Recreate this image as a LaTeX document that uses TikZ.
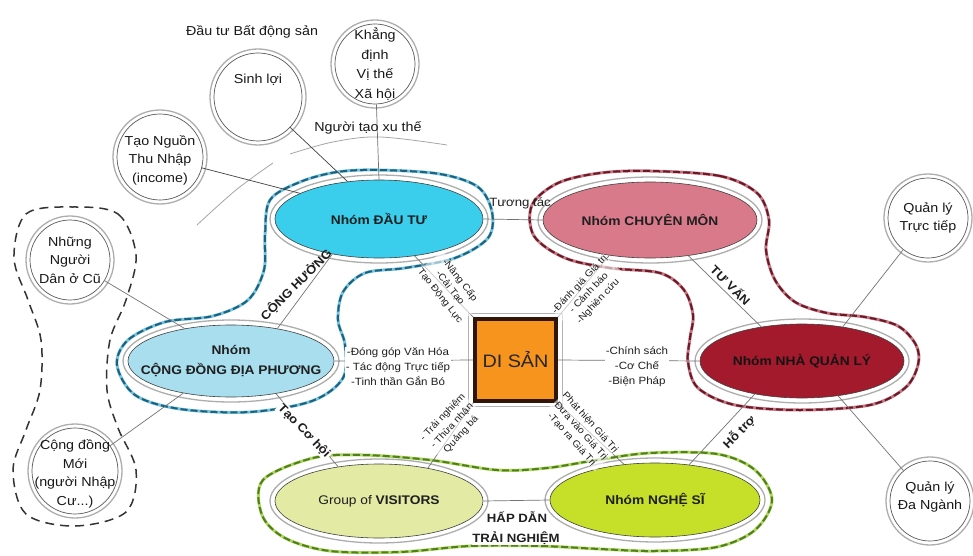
\documentclass[tikz,border=0pt]{standalone}
\usepackage{fontspec}
\setmainfont{Liberation Sans}[FakeStretch=1.1]
\usetikzlibrary{shapes.geometric}
\definecolor{cyanF}{RGB}{58,206,236}
\definecolor{cyanL}{RGB}{168,222,238}
\definecolor{pinkF}{RGB}{216,122,138}
\definecolor{redF}{RGB}{162,26,44}
\definecolor{visF}{RGB}{226,234,164}
\definecolor{artF}{RGB}{198,224,42}
\definecolor{orangeF}{RGB}{247,148,30}
\definecolor{boxD}{RGB}{48,22,10}
\definecolor{blueD}{RGB}{28,98,128}
\definecolor{blueL}{RGB}{120,196,220}
\definecolor{marD}{RGB}{108,24,40}
\definecolor{marL}{RGB}{196,120,130}
\definecolor{grnD}{RGB}{78,128,28}
\definecolor{grnL}{RGB}{176,214,96}
\begin{document}
\begin{tikzpicture}[x=1pt,y=-1pt,
  grp/.style={ellipse, draw=black!75, line width=0.6pt, inner sep=0pt},
  gtext/.style={font=\fontsize{12.5}{20}\selectfont\bfseries, text=black!88, align=center},
  ring/.style={draw=black!32, line width=1.3pt},
  circ/.style={circle, draw=black!65, line width=0.7pt, inner sep=0pt, fill=white},
  ctext/.style={font=\fontsize{13}{18.5}\selectfont, align=center, text=black!90},
  conn/.style={draw=black!55, line width=0.7pt},
  small/.style={font=\fontsize{10.5}{15}\selectfont, align=center, text=black!88},
  diag/.style={font=\fontsize{9.5}{12.5}\selectfont, align=center, text=black!88, fill=white, fill opacity=0.6, text opacity=1, inner sep=0pt},
  clab/.style={font=\fontsize{12}{14}\selectfont\bfseries, text=black!88},
  blobB/.style={draw=blueL, line width=3pt, postaction={draw=blueD, line width=2pt, dash pattern=on 7pt off 3pt}},
  blobM/.style={draw=marL, line width=3pt, postaction={draw=marD, line width=2pt, dash pattern=on 7pt off 3pt}},
  blobG/.style={draw=grnL, line width=3pt, postaction={draw=grnD, line width=2pt, dash pattern=on 7pt off 3pt}},
]
\useasboundingbox (0,0) rectangle (973,556);
\fill[white] (0,0) rectangle (973,556);

% group outlines
\draw[blobB] plot[smooth cycle, tension=0.55] coordinates {(379,170) (440,174) (478,187) (492,212) (488,238) (455,258) (405,268) (365,273) (343,292) (338,320) (345,345) (343,378) (312,401) (250,412) (180,409) (135,395) (117,365) (128,340) (165,322) (213,316) (248,300) (264,270) (265,235) (270,200) (300,182) (337,172)};
\draw[blobM] plot[smooth cycle, tension=0.55] coordinates {(650,171) (720,176) (757,193) (769,220) (766,250) (775,280) (795,302) (827,313) (865,317) (898,326) (916,345) (918,365) (905,388) (870,405) (800,410) (735,405) (698,388) (688,362) (690,338) (693,315) (684,290) (660,273) (610,268) (565,258) (534,236) (532,205) (558,183) (600,173)};
\draw[blobG] plot[smooth cycle, tension=0.55] coordinates {(263,480) (313,458) (363,455) (430,460) (497,470) (547,468) (597,460) (650,453) (717,454) (755,470) (772,500) (755,530) (717,547) (655,551) (600,549) (540,546) (470,546) (400,552) (330,551) (285,538) (262,515)};
\draw[black!80, line width=1.5pt, dash pattern=on 9pt off 6pt] plot[smooth cycle, tension=0.55] coordinates {(72,207) (118,214) (136,255) (126,300) (110,340) (107,390) (118,428) (136,470) (126,512) (75,526) (26,514) (13,470) (26,430) (40,390) (41,340) (28,300) (14,258) (26,214)};

% trend arc
\draw[black!35, line width=0.8pt] plot[smooth, tension=0.6] coordinates {(197,225) (236,190) (273,163)};
\draw[black!35, line width=0.8pt] plot[smooth, tension=0.6] coordinates {(290,154) (333,142) (380,137) (447,145)};

% group ellipses
\node[grp, fill=cyanF, minimum width=208pt, minimum height=78pt, label={[gtext]center:Nhóm ĐẦU TƯ}] (dautu) at (379,219) {};
\node[grp, fill=pinkF, minimum width=214pt, minimum height=76pt, label={[gtext]center:Nhóm CHUYÊN MÔN}] (chuyen) at (650,220) {};
\node[grp, fill=redF, minimum width=204pt, minimum height=74pt, label={[gtext, text=black!92]center:Nhóm NHÀ QUẢN LÝ}] (nhaql) at (802,361) {};
\node[grp, fill=cyanL, minimum width=206pt, minimum height=72pt, label={[gtext]center:Nhóm\\CỘNG ĐỒNG ĐỊA PHƯƠNG}] (cong) at (231,361) {};
\node[grp, fill=visF, minimum width=208pt, minimum height=74pt, label={[gtext]center:{\mdseries Group of} VISITORS}] (visit) at (379,501) {};
\node[grp, fill=artF, minimum width=210pt, minimum height=74pt, label={[gtext]center:Nhóm NGHỆ SĨ}] (nghe) at (655,500) {};

\draw[ring] (dautu.center) ellipse [x radius=109, y radius=44];
\draw[ring] (chuyen.center) ellipse [x radius=112, y radius=43];
\draw[ring] (nhaql.center) ellipse [x radius=107, y radius=42];
\draw[ring] (cong.center) ellipse [x radius=108, y radius=41];
\draw[ring] (visit.center) ellipse [x radius=109, y radius=42];
\draw[ring] (nghe.center) ellipse [x radius=110, y radius=42];

% heritage box
\draw[black!30, line width=1pt] (468.5,313.5) rectangle (562.5,406.5);
\node[draw=boxD, line width=3.5pt, fill=orangeF, minimum width=81pt, minimum height=82pt, inner sep=0pt, font=\fontsize{18}{20}\selectfont, text=black!85] (disan) at (515.5,360) {DI SẢN};

% circles
\node[circ, minimum size=88pt, label={[ctext, yshift=17pt]center:Sinh lợi}] (sinh) at (258,97) {};
\node[circ, minimum size=80pt, label={[ctext, font=\fontsize{13}{19.5}\selectfont]center:Khẳng\\định\\Vị thế\\Xã hội}] (khang) at (375,64) {};
\node[circ, minimum size=86pt, label={[ctext, yshift=-3pt]center:Tạo Nguồn\\Thu Nhập\\(income)}] (taonguon) at (160,157) {};
\node[circ, minimum size=80pt, label={[ctext]center:Những\\Người\\Dân ở Cũ}] (nhung) at (70,260) {};
\node[circ, minimum size=86pt, label={[ctext, yshift=-3pt]center:Cộng đồng\\Mới\\(người Nhập\\Cư...)}] (moi) at (75,471) {};
\node[circ, minimum size=80pt, label={[ctext]center:Quản lý\\Trực tiếp}] (qltt) at (928,218) {};
\node[circ, minimum size=80pt, label={[ctext, yshift=4pt]center:Quản lý\\Đa Ngành}] (qldn) at (930,501) {};
\draw[ring] (sinh.center) circle (48);
\draw[ring] (khang.center) circle (44);
\draw[ring] (taonguon.center) circle (47);
\draw[ring] (nhung.center) circle (44);
\draw[ring] (moi.center) circle (47);
\draw[ring] (qltt.center) circle (44);
\draw[ring] (qldn.center) circle (44);

% connectors
\draw[conn] (dautu.east) -- (chuyen.west);
\draw[conn] (cong.35) -- (dautu.217);
\draw[conn] (dautu.-46) -- (disan.north west);
\draw[conn] (chuyen.-139) -- (disan.north east);
\draw[conn] (cong.east) -- (disan.west);
\draw[conn] (disan.east) -- (nhaql.west);
\draw[conn] (disan.south west) -- (visit.34);
\draw[conn] (disan.south east) -- (nghe.131);
\draw[conn] (cong.-36) -- (visit.140);
\draw[conn] (visit.east) -- (nghe.west);
\draw[conn] (chuyen.-43) -- (nhaql.140);
\draw[conn] (nghe.46) -- (nhaql.215);
\draw[conn] (qltt) -- (nhaql.40);
\draw[conn] (nhaql.-44) -- (qldn);
\draw[conn] (nhung) -- (cong.145);
\draw[conn] (moi) -- (cong.214);
\draw[conn, draw=black!75] (sinh) -- (dautu.130);
\draw[conn] (khang) -- (dautu.90);
\draw[conn, draw=black!75] (taonguon) -- (dautu.162);

% texts
\node[ctext] (dtbds) at (252,32) {Đầu tư Bất động sản};
\node[ctext] (xuthe) at (368,128) {Người tạo xu thế};
\node[font=\fontsize{12}{14}\selectfont, text=black!88] (tuongtac) at (520,203) {Tương tác};
\node[clab, rotate=45] (conghuong) at (296,285) {CỘNG HƯỞNG};
\node[clab, rotate=-45] (tuvan) at (731,285) {TƯ VẤN};
\node[clab, rotate=-46, fill=white, inner sep=1pt] (taocohoi) at (304,431) {Tạo Cơ hội};
\node[clab, rotate=46] (hotro) at (739,432) {Hỗ trợ};
\node[clab] (hapdan) at (517,517) {HẤP DẪN};
\node[clab, fill=white, inner sep=0.5pt] (trainghiem) at (516,538) {TRẢI NGHIỆM};

\node[diag, rotate=-52] (lab1) at (450,288) {-Nâng Cấp\\-Cải Tạo\\Tạo Động Lực};
\node[diag, rotate=47] (lab2) at (589,293) {-Đánh giá Giá trị\\- Cảnh báo\\-Nghiên cứu};
\node[diag, rotate=47] (lab3) at (452,426) {- Trải nghiệm\\- Thừa nhận\\Quảng bá};
\node[diag, rotate=-48] (lab4) at (581,431) {Phát hiện Giá Trị\\Đưa vào Giá Trị\\-Tạo ra Giá Trị};
\node[small, fill=white, inner sep=1pt] (lab5) at (398,367) {-Đóng góp Văn Hóa\\- Tác động Trực tiếp\\-Tinh thần Gắn Bó};
\node[small, fill=white, inner sep=1pt] (lab6) at (637,367) {-Chính sách\\-Cơ Chế\\-Biện Pháp};
\end{tikzpicture}
\end{document}
